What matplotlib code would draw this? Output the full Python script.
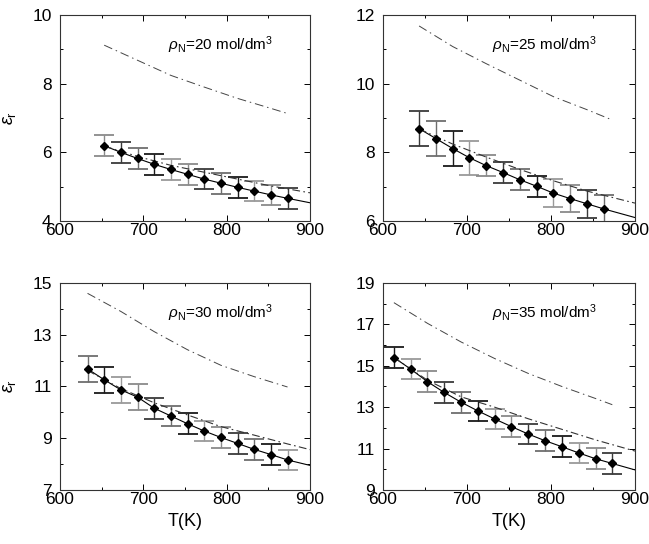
import matplotlib

matplotlib.use("Agg")
import matplotlib.pyplot as plt
from matplotlib.ticker import MultipleLocator

plt.rcParams["font.family"] = ["Liberation Sans", "DejaVu Sans"]
plt.rcParams["mathtext.fontset"] = "custom"
plt.rcParams["mathtext.rm"] = "Liberation Sans"
plt.rcParams["mathtext.it"] = "Liberation Sans:italic"

# simulation points (T in K, eps_r, error)
t_20 = [653, 673, 693, 713, 733, 753, 773, 793, 813, 833, 853, 873]
eps_20 = [6.19, 6.0, 5.82, 5.65, 5.5, 5.36, 5.22, 5.1, 4.98, 4.87, 4.76, 4.66]
err_20 = [0.3] * 12

t_25 = [643, 663, 683, 703, 723, 743, 763, 783, 803, 823, 843, 863]
eps_25 = [8.69, 8.40, 8.11, 7.84, 7.61, 7.41, 7.20, 7.01, 6.81, 6.65, 6.50, 6.35]
err_25 = [0.5, 0.5, 0.5, 0.5, 0.3, 0.3, 0.3, 0.3, 0.4, 0.4, 0.4, 0.4]

t_30 = [633, 653, 673, 693, 713, 733, 753, 773, 793, 813, 833, 853, 873]
eps_30 = [11.68, 11.26, 10.87, 10.59, 10.16, 9.86, 9.56, 9.28, 9.03, 8.80, 8.57, 8.37, 8.16]
err_30 = [0.5, 0.5, 0.5, 0.5, 0.4, 0.4, 0.4, 0.4, 0.4, 0.4, 0.4, 0.4, 0.4]

t_35 = [613, 633, 653, 673, 693, 713, 733, 753, 773, 793, 813, 833, 853, 873]
eps_35 = [15.40, 14.84, 14.23, 13.71, 13.24, 12.82, 12.43, 12.06, 11.70, 11.38, 11.09, 10.79, 10.51, 10.28]
err_35 = [0.5] * 14

# solid fit: end value at 900 K
fit_end = [4.53, 6.10, 7.95, 9.97]

# lower dash-dot curve
low_t_20 = [653, 693, 733, 773, 813, 853, 900]
low_20 = [6.18, 5.88, 5.62, 5.42, 5.22, 5.02, 4.82]
low_t_25 = [643, 683, 723, 763, 803, 843, 900]
low_25 = [8.68, 8.24, 7.86, 7.50, 7.17, 6.87, 6.52]
low_t_30 = [633, 673, 713, 753, 793, 833, 873, 900]
low_30 = [11.62, 10.92, 10.37, 9.90, 9.45, 9.12, 8.78, 8.56]
low_t_35 = [613, 653, 693, 733, 773, 813, 853, 900]
low_35 = [15.40, 14.30, 13.50, 13.00, 12.44, 11.93, 11.42, 10.88]

# upper dash-dot curve
up_t_20 = [653, 693, 733, 773, 813, 853, 873]
up_20 = [9.12, 8.68, 8.24, 7.90, 7.57, 7.28, 7.13]
up_t_25 = [643, 683, 723, 763, 803, 843, 873]
up_25 = [11.68, 11.08, 10.58, 10.10, 9.62, 9.24, 8.94]
up_t_30 = [633, 673, 713, 753, 793, 833, 873]
up_30 = [14.60, 13.90, 13.12, 12.42, 11.82, 11.38, 10.98]
up_t_35 = [613, 653, 693, 733, 773, 813, 853, 873]
up_35 = [18.05, 17.05, 16.15, 15.35, 14.63, 14.00, 13.42, 13.12]

densities = [20, 25, 30, 35]
ylims = [(4, 10), (6, 12), (7, 15), (9, 19)]

panels = [
    (t_20, eps_20, err_20, low_t_20, low_20, up_t_20, up_20),
    (t_25, eps_25, err_25, low_t_25, low_25, up_t_25, up_25),
    (t_30, eps_30, err_30, low_t_30, low_30, up_t_30, up_30),
    (t_35, eps_35, err_35, low_t_35, low_35, up_t_35, up_35),
]

cap_colors = ["#8a8a8a", "#3a3a3a", "#6e6e6e", "#1a1a1a", "#9a9a9a"]

fig = plt.figure(figsize=(6.49, 5.44), dpi=100)
rects = [
    [0.0925, 0.5938, 0.3852, 0.3787],
    [0.5901, 0.5938, 0.3883, 0.3787],
    [0.0925, 0.0993, 0.3852, 0.3805],
    [0.5901, 0.0993, 0.3883, 0.3805],
]

for idx, (rect, data) in enumerate(zip(rects, panels)):
    ax = fig.add_axes(rect)
    t, eps, err, lt, lo, ut, up = data

    for i, (x, y, e) in enumerate(zip(t, eps, err)):
        c = cap_colors[(i + idx) % len(cap_colors)]
        ax.errorbar(
            [x], [y], yerr=[e], fmt="none", ecolor=c,
            elinewidth=1.0, capsize=7.5, capthick=1.3,
        )
    ax.plot(t, eps, "D", color="black", markersize=4, zorder=5)
    ax.plot(list(t) + [900], list(eps) + [fit_end[idx]],
            color="black", linewidth=0.8)
    ax.plot(lt, lo, color="#333333", linewidth=0.8,
            linestyle=(0, (7, 3, 1.5, 3)))
    ax.plot(ut, up, color="#444444", linewidth=0.7,
            linestyle=(0, (9, 4, 1.5, 4)))

    lo_y, hi_y = ylims[idx]
    ax.set_xlim(600, 900)
    ax.set_ylim(lo_y, hi_y)
    ax.set_yticks(range(lo_y, hi_y + 1, 2))
    ax.xaxis.set_major_locator(MultipleLocator(100))
    ax.xaxis.set_minor_locator(MultipleLocator(50))
    ax.yaxis.set_minor_locator(MultipleLocator(1))
    ax.tick_params(which="both", direction="in", top=True, right=True,
                   labelsize=12.5, width=0.7)
    ax.tick_params(which="major", length=4)
    ax.tick_params(which="minor", length=2.5)
    ax.tick_params(axis="y", pad=6)
    ax.tick_params(axis="x", pad=1.5)
    for s in ax.spines.values():
        s.set_linewidth(0.8)
        s.set_color("#333333")

    ax.text(0.64, 0.855,
            r"$\rho_\mathrm{N}$=%d mol/dm$^3$" % densities[idx],
            transform=ax.transAxes, ha="center", va="center", fontsize=11)

    if idx % 2 == 0:
        ax.set_ylabel(r"$\varepsilon_\mathrm{r}$", fontsize=13)
        ax.yaxis.set_label_coords(-0.17, 0.5)
    if idx >= 2:
        ax.set_xlabel("T(K)", fontsize=13, labelpad=4)

fig.savefig("out.png", dpi=100)
